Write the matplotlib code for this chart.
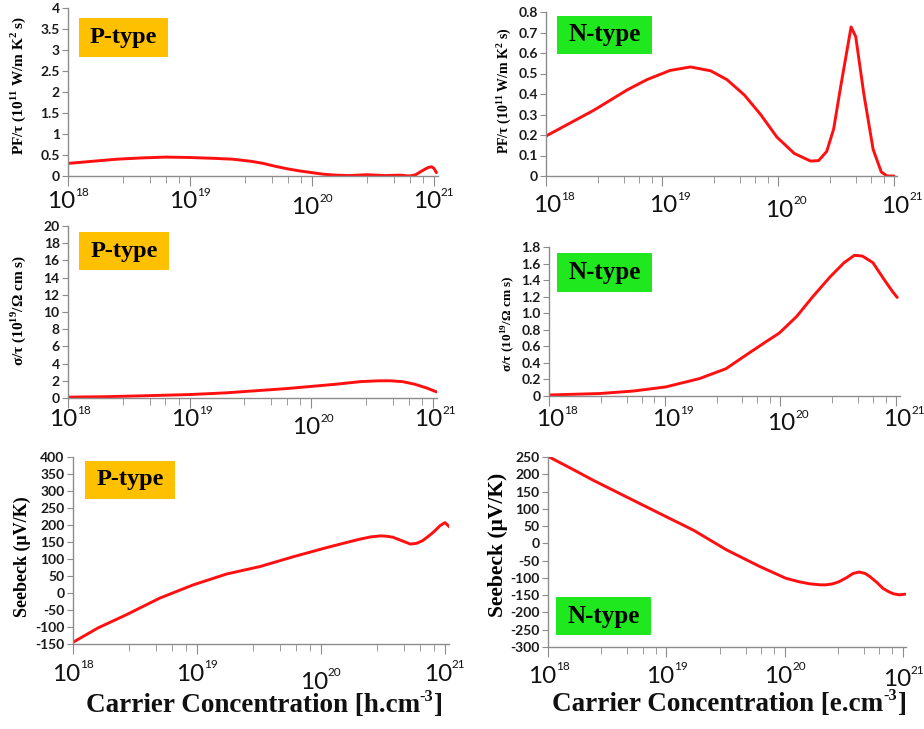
## Thermoelectric transport vs carrier concentration (P-type / N-type)

import numpy as np
import matplotlib
matplotlib.use("Agg")
import matplotlib.pyplot as plt
from matplotlib.patches import Rectangle
from matplotlib.ticker import FixedLocator, NullFormatter

W, H = 924, 729

# ---- data (log10 of carrier concentration, value) ----
# PF/tau, P-type
p_pf_logn = [18.0, 18.2, 18.4, 18.6, 18.8, 19.0, 19.2, 19.35, 19.5, 19.6, 19.7, 19.8,
             19.9, 20.0, 20.1, 20.2, 20.3, 20.45, 20.6, 20.72, 20.8, 20.85, 20.9,
             20.95, 20.98, 21.0, 21.02]
p_pf = [0.30, 0.35, 0.40, 0.43, 0.45, 0.44, 0.42, 0.40, 0.35, 0.30, 0.23, 0.17,
        0.12, 0.08, 0.04, 0.02, 0.01, 0.03, 0.01, 0.02, 0.0, 0.03, 0.12,
        0.20, 0.22, 0.18, 0.08]

# PF/tau, N-type
n_pf_logn = [18.0, 18.41, 18.70, 18.87, 19.07, 19.245, 19.42, 19.56, 19.71, 19.85,
             19.99, 20.14, 20.28, 20.35, 20.42, 20.48, 20.54, 20.63, 20.67, 20.74,
             20.82, 20.89, 20.94, 21.0]
n_pf = [0.195, 0.32, 0.42, 0.47, 0.515, 0.532, 0.513, 0.47, 0.395, 0.30,
        0.19, 0.11, 0.073, 0.075, 0.12, 0.23, 0.435, 0.727, 0.68, 0.40,
        0.13, 0.02, 0.0, 0.0]

# sigma/tau, P-type
p_sig_logn = [18.0, 18.3, 18.6, 19.0, 19.3, 19.6, 19.8, 20.0, 20.2, 20.4, 20.55,
              20.65, 20.75, 20.85, 20.95, 21.03]
p_sig = [0.1, 0.15, 0.25, 0.4, 0.6, 0.9, 1.1, 1.35, 1.6, 1.9, 2.0,
         2.0, 1.9, 1.6, 1.15, 0.7]

# sigma/tau, N-type
n_sig_logn = [18.0, 18.44, 18.73, 19.01, 19.30, 19.53, 19.73, 19.88, 19.99, 20.14,
              20.28, 20.43, 20.55, 20.64, 20.71, 20.80, 20.89, 20.97, 21.01]
n_sig = [0.012, 0.03, 0.06, 0.11, 0.21, 0.33, 0.52, 0.66, 0.76, 0.96,
         1.20, 1.44, 1.61, 1.70, 1.69, 1.61, 1.42, 1.26, 1.19]

# Seebeck, P-type
p_s_logn = [18.0, 18.2, 18.43, 18.7, 18.97, 19.24, 19.51, 19.78, 20.05, 20.2, 20.31,
            20.4, 20.48, 20.53, 20.58, 20.65, 20.72, 20.77, 20.82, 20.87, 20.91,
            20.96, 21.0, 21.04]
p_s = [-145, -103, -64, -15, 24, 56, 78, 107, 134, 148, 158,
       165, 168, 167, 164, 154, 144, 146, 154, 168, 180,
       198, 207, 193]

# Seebeck, N-type
n_s_logn = [18.01, 18.2, 18.38, 18.66, 19.0, 19.23, 19.51, 19.79, 20.01, 20.12, 20.21,
            20.3, 20.35, 20.41, 20.46, 20.52, 20.58, 20.63, 20.68, 20.72, 20.78,
            20.83, 20.88, 20.92, 20.97, 21.02]
n_s = [250, 216, 183, 135, 77, 38, -19, -67, -101, -111, -117,
       -120, -120, -117, -111, -100, -87, -83, -87, -96, -113,
       -130, -140, -146, -149, -147]

xticks = [1e18, 1e19, 1e20, 1e21]
xtick_exps = ["18", "19", "20", "21"]

fig = plt.figure(figsize=(W / 100, H / 100), dpi=100)
fig.patch.set_facecolor("white")

GRAY = "#8c8c8c"
SERIF = "Liberation Serif"
SANS = "Lato"


def px_axes(left, decade, top, bottom):
    width = decade * 3.03
    return fig.add_axes([left / W, 1 - bottom / H, width / W, (bottom - top) / H])


def panel(ax, logn, vals, ylim, yticks, ylabs, ylabel, ylsize, lab_xy, lab_dx, lab_dy, lab_extra):
    ax.plot(10 ** np.array(logn), vals, color="#ff0f0f", lw=2.1, solid_capstyle="round")
    ax.set_xscale("log")
    ax.set_xlim(1e18, 10 ** 21.03)
    ax.set_ylim(*ylim)
    for s in ["top", "right"]:
        ax.spines[s].set_visible(False)
    for s in ["left", "bottom"]:
        ax.spines[s].set_color(GRAY)
        ax.spines[s].set_linewidth(1.0)
    ax.set_xticks(xticks)
    ax.set_xticklabels([])
    minors = [10 ** (n + f) for n in (18, 19, 20) for f in (0.45, 0.67, 0.80, 0.91)]
    ax.xaxis.set_minor_locator(FixedLocator(minors))
    ax.xaxis.set_minor_formatter(NullFormatter())
    ax.tick_params(axis="x", which="major", length=7, color=GRAY)
    ax.tick_params(axis="x", which="minor", length=5, color=GRAY)
    ax.set_yticks(yticks)
    ax.set_yticklabels(ylabs, fontfamily=SANS, fontweight="bold", fontsize=10)
    ax.tick_params(axis="y", length=4, color=GRAY, pad=2, labelcolor="#1a1a1a")
    ax.set_ylabel(ylabel, fontfamily=SERIF, fontweight="bold", fontsize=ylsize)
    ax.yaxis.label.set_verticalalignment("center")
    ax.yaxis.set_label_coords(lab_xy[0] / W, 1 - lab_xy[1] / H, transform=fig.transFigure)
    ax.patch.set_alpha(0)

    # "10" with a small exponent, as in the original figure
    tr = ax.get_xaxis_transform()
    for x, e, ex in zip(xticks, xtick_exps, lab_extra):
        ax.annotate("10", xy=(x, 0), xycoords=tr, xytext=(lab_dx, -(lab_dy + ex)),
                    textcoords="offset pixels", ha="center", va="top",
                    fontfamily=SANS, fontsize=17.5, color="#111111", annotation_clip=False)
        ax.annotate(e, xy=(x, 0), xycoords=tr, xytext=(lab_dx + 14, -(lab_dy + ex - 4.5)),
                    textcoords="offset pixels", ha="left", va="top",
                    fontfamily=SANS, fontsize=8.5, color="#111111", annotation_clip=False)


def tag(x0, y0, x1, y1, text, color, size):
    fig.patches.append(Rectangle((x0 / W, 1 - y1 / H), (x1 - x0) / W, (y1 - y0) / H,
                                 transform=fig.transFigure, facecolor=color,
                                 edgecolor="none", zorder=5))
    fig.text((x0 + x1) / 2 / W, 1 - (y0 + y1) / 2 / H, text, ha="center", va="center",
             fontfamily=SERIF, fontweight="bold", fontsize=size, zorder=6)


def xtitle(xc, ybase, pre, sup, post, size=20):
    r = fig.canvas.get_renderer()
    kw = dict(fontfamily=SERIF, fontweight="bold", va="baseline", color="#111111")
    t1 = fig.text(0, 1 - ybase / H, pre, fontsize=size, **kw)
    t2 = fig.text(0, 1 - (ybase - size * 0.55) / H, sup, fontsize=size * 0.6, **kw)
    t3 = fig.text(0, 1 - ybase / H, post, fontsize=size, **kw)
    ws = [t.get_window_extent(r).width for t in (t1, t2, t3)]
    x = xc - sum(ws) / 2
    for t, w in zip((t1, t2, t3), ws):
        t.set_x(x / W)
        x += w


ORANGE = "#ffc000"
GREEN = "#1fe81f"

# top row
ax1 = px_axes(68, 122, 8, 176)
panel(ax1, p_pf_logn, p_pf, (0, 4), np.arange(0, 4.01, 0.5),
      ["0", "0.5", "1", "1.5", "2", "2.5", "3", "3.5", "4"],
      r"PF/τ (10$^\mathregular{11}$ W/m K$^\mathregular{2}$ s)", 11, (18, 85),
      -7, 15, [0, 0, 6, 0])
tag(79, 18, 168, 57, "P-type", ORANGE, 17.5)

ax2 = px_axes(546, 116, 12, 176)
panel(ax2, n_pf_logn, n_pf, (0, 0.8), np.arange(0, 0.81, 0.1),
      ["0", "0.1", "0.2", "0.3", "0.4", "0.5", "0.6", "0.7", "0.8"],
      r"PF/τ (10$^\mathregular{11}$ W/m K$^\mathregular{2}$ s)", 10, (504, 91),
      1, 19, [0, 0, 5, 1])
tag(557, 16, 652, 54, "N-type", GREEN, 18)

# middle row
ax3 = px_axes(68, 121.7, 226, 398)
panel(ax3, p_sig_logn, p_sig, (0, 20), np.arange(0, 20.1, 2),
      [str(v) for v in range(0, 21, 2)],
      r"σ/τ (10$^\mathregular{19}$/Ω cm s)", 11, (18, 311),
      -5, 11, [0, 0, 8, 0])
tag(79, 232, 169, 270, "P-type", ORANGE, 17.5)

ax4 = px_axes(549, 115.7, 247, 396)
panel(ax4, n_sig_logn, n_sig, (0, 1.8), np.arange(0, 1.81, 0.2),
      ["0", "0.2", "0.4", "0.6", "0.8", "1.0", "1.2", "1.4", "1.6", "1.8"],
      r"σ/τ (10$^\mathregular{19}$/Ω cm s)", 9.5, (508, 324),
      1, 13, [0, 0, 4, 0])
tag(557, 253, 652, 292, "N-type", GREEN, 18)

# bottom row
ax5 = px_axes(73, 124, 457, 644)
panel(ax5, p_s_logn, p_s, (-150, 400), np.arange(-150, 401, 50),
      [str(v) for v in range(-150, 401, 50)],
      "Seebeck (μV/K)", 13, (22, 557),
      -7, 20, [0, 0, 8, 0])
tag(85, 461, 175, 499, "P-type", ORANGE, 17.5)

ax6 = px_axes(548, 118.3, 457, 647)
panel(ax6, n_s_logn, n_s, (-300, 250), np.arange(-300, 251, 50),
      [str(v) for v in range(-300, 251, 50)],
      "Seebeck (μV/K)", 15.5, (498, 545),
      -6, 19, [0, 0, 0, 3])
tag(556, 597, 651, 635, "N-type", GREEN, 18)

xtitle(264, 712, "Carrier Concentration [h.cm", "-3", "]", 19.5)
xtitle(729, 711, "Carrier Concentration [e.cm", "-3", "]", 19.5)

plt.savefig("out.png", dpi=100, facecolor="white")
